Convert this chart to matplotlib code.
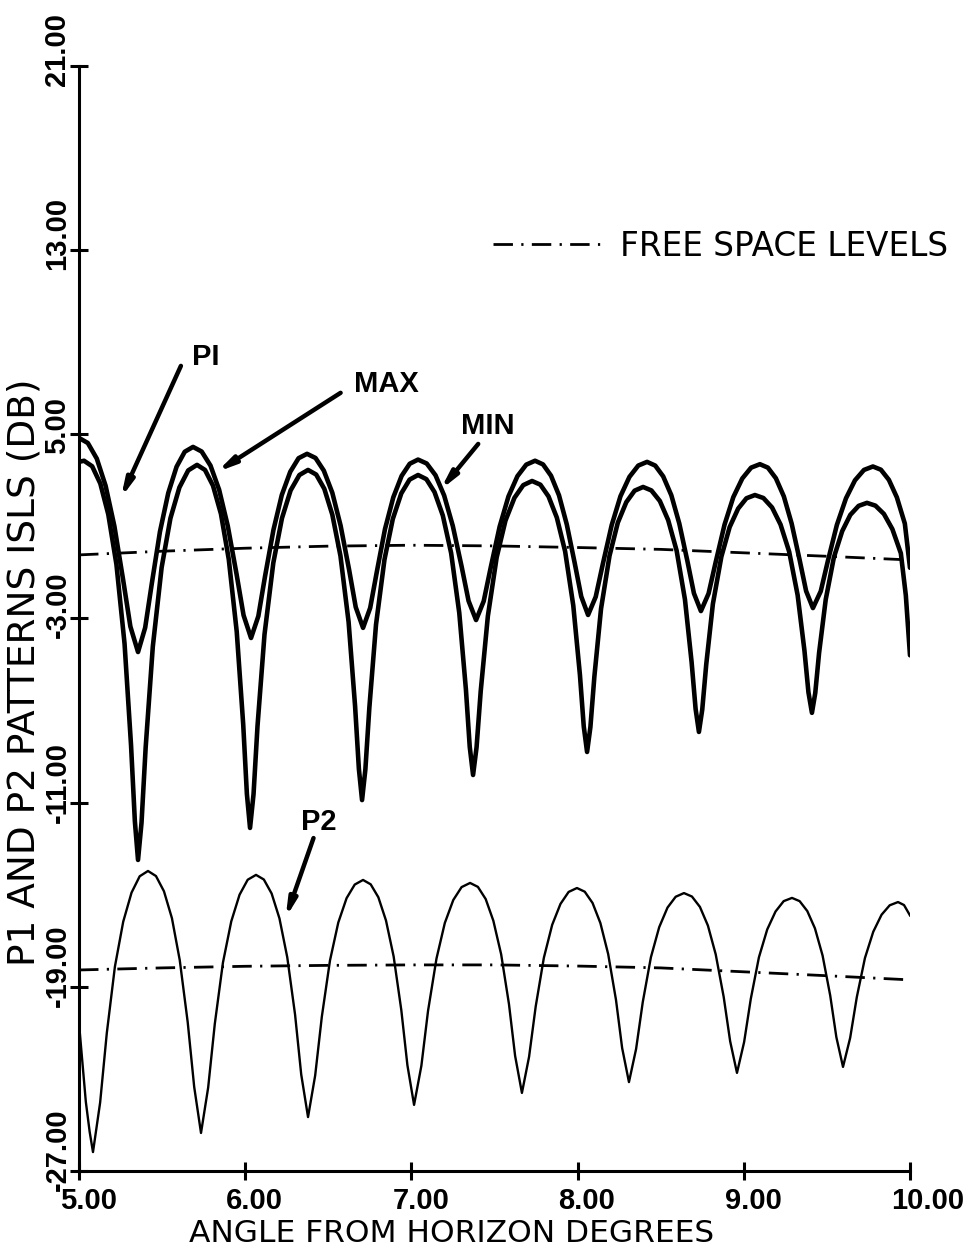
import matplotlib
matplotlib.use("Agg")
import matplotlib.pyplot as plt
from matplotlib.transforms import ScaledTranslation

# P1 "MAX" curve (angle in degrees, level in dB)
max_x = [5.000, 5.053, 5.107, 5.160, 5.213, 5.266, 5.309, 5.355,
         5.398, 5.438, 5.487, 5.537, 5.587, 5.636, 5.686,
         5.738, 5.791, 5.843, 5.895, 5.948, 5.990, 6.035,
         6.079, 6.119, 6.170, 6.220, 6.271, 6.321, 6.372,
         6.423, 6.473, 6.524, 6.574, 6.625, 6.665, 6.709,
         6.752, 6.792, 6.841, 6.891, 6.941, 6.990, 7.040,
         7.092, 7.145, 7.197, 7.249, 7.302, 7.344, 7.389,
         7.435, 7.478, 7.531, 7.584, 7.638, 7.691, 7.744,
         7.792, 7.840, 7.888, 7.935, 7.983, 8.022, 8.063,
         8.109, 8.152, 8.205, 8.258, 8.312, 8.365, 8.418,
         8.467, 8.515, 8.564, 8.612, 8.661, 8.700, 8.742,
         8.788, 8.831, 8.884, 8.937, 8.991, 9.044, 9.097,
         9.145, 9.193, 9.241, 9.288, 9.336, 9.375, 9.416,
         9.463, 9.506, 9.560, 9.615, 9.669, 9.723, 9.777,
         9.825, 9.873, 9.921, 9.969, 10.000]
max_db = [4.84, 4.62, 3.94, 2.76, 1.00, -1.35, -3.35, -4.46,
          -3.40, -1.48, 0.77, 2.45, 3.59, 4.24, 4.45,
          4.25, 3.64, 2.59, 1.02, -1.08, -2.86, -3.85,
          -2.90, -1.18, 0.85, 2.36, 3.37, 3.96, 4.15,
          3.97, 3.42, 2.46, 1.03, -0.88, -2.51, -3.41,
          -2.54, -0.97, 0.88, 2.26, 3.19, 3.72, 3.90,
          3.73, 3.22, 2.34, 1.02, -0.74, -2.24, -3.07,
          -2.25, -0.76, 0.99, 2.30, 3.18, 3.68, 3.85,
          3.69, 3.20, 2.35, 1.08, -0.61, -2.05, -2.85,
          -2.06, -0.63, 1.05, 2.31, 3.15, 3.64, 3.80,
          3.64, 3.17, 2.35, 1.12, -0.52, -1.91, -2.68,
          -1.92, -0.55, 1.07, 2.27, 3.08, 3.55, 3.70,
          3.55, 3.09, 2.30, 1.12, -0.46, -1.81, -2.55,
          -1.82, -0.50, 1.06, 2.22, 3.00, 3.45, 3.60,
          3.46, 3.02, 2.26, 1.12, -0.80]

# P1 "MIN" curve
min_x = [5.000, 5.030, 5.079, 5.128, 5.176, 5.225, 5.274, 5.313, 5.336, 5.355,
         5.376, 5.401, 5.444, 5.497, 5.550, 5.604, 5.657, 5.710,
         5.758, 5.806, 5.854, 5.901, 5.949, 5.988, 6.010, 6.029,
         6.050, 6.074, 6.116, 6.169, 6.221, 6.273, 6.326, 6.378,
         6.427, 6.476, 6.524, 6.573, 6.622, 6.661, 6.684, 6.703,
         6.723, 6.747, 6.787, 6.838, 6.888, 6.939, 6.989, 7.040,
         7.090, 7.139, 7.189, 7.239, 7.288, 7.328, 7.351, 7.371,
         7.392, 7.417, 7.460, 7.513, 7.566, 7.620, 7.673, 7.726,
         7.776, 7.825, 7.875, 7.925, 7.974, 8.014, 8.037, 8.057,
         8.077, 8.101, 8.141, 8.192, 8.242, 8.293, 8.343, 8.394,
         8.444, 8.495, 8.545, 8.596, 8.646, 8.686, 8.710, 8.730,
         8.750, 8.774, 8.814, 8.865, 8.915, 8.966, 9.016, 9.067,
         9.118, 9.170, 9.221, 9.273, 9.324, 9.365, 9.389, 9.410,
         9.430, 9.453, 9.493, 9.542, 9.592, 9.641, 9.691, 9.741,
         9.792, 9.843, 9.894, 9.945, 9.975, 10.000]
min_db = [3.80, 3.85, 3.61, 2.86, 1.52, -0.65, -4.10, -8.51, -11.81, -13.49,
          -11.88, -8.60, -4.22, -0.79, 1.35, 2.69, 3.43, 3.67,
          3.45, 2.77, 1.54, -0.43, -3.58, -7.61, -10.62, -12.10,
          -10.64, -7.67, -3.70, -0.59, 1.35, 2.56, 3.23, 3.45,
          3.25, 2.63, 1.51, -0.28, -3.15, -6.80, -9.54, -10.89,
          -9.56, -6.87, -3.27, -0.44, 1.32, 2.43, 3.03, 3.23,
          3.05, 2.49, 1.47, -0.16, -2.76, -6.09, -8.58, -9.80,
          -8.60, -6.16, -2.90, -0.35, 1.25, 2.24, 2.79, 2.97,
          2.81, 2.30, 1.38, -0.09, -2.44, -5.45, -7.69, -8.80,
          -7.72, -5.52, -2.58, -0.28, 1.16, 2.05, 2.55, 2.71,
          2.56, 2.10, 1.27, -0.06, -2.18, -4.90, -6.93, -7.93,
          -6.96, -5.00, -2.37, -0.32, 0.97, 1.77, 2.22, 2.36,
          2.23, 1.82, 1.08, -0.10, -1.99, -4.40, -6.21, -7.10,
          -6.24, -4.50, -2.18, -0.35, 0.79, 1.50, 1.89, 2.02,
          1.90, 1.54, 0.88, -0.17, -2.00, -4.60]

# P2 curve
p2_x = [5.000, 5.041, 5.064, 5.084,
        5.127, 5.167, 5.216, 5.266, 5.316, 5.365, 5.415,
        5.463, 5.511, 5.559, 5.606, 5.654, 5.693, 5.734,
        5.777, 5.817, 5.866, 5.916, 5.966, 6.015, 6.065,
        6.112, 6.159, 6.206, 6.253, 6.300, 6.337, 6.378,
        6.421, 6.461, 6.510, 6.560, 6.610, 6.659, 6.709,
        6.755, 6.801, 6.847, 6.893, 6.939, 6.976, 7.016,
        7.060, 7.100, 7.151, 7.201, 7.252, 7.302, 7.353,
        7.400, 7.447, 7.493, 7.540, 7.587, 7.624, 7.665,
        7.708, 7.748, 7.797, 7.847, 7.897, 7.946, 7.996,
        8.043, 8.090, 8.137, 8.184, 8.231, 8.268, 8.309,
        8.352, 8.392, 8.441, 8.491, 8.541, 8.590, 8.640,
        8.688, 8.736, 8.784, 8.831, 8.879, 8.918, 8.959,
        9.002, 9.042, 9.091, 9.141, 9.191, 9.240, 9.290,
        9.336, 9.382, 9.428, 9.474, 9.520, 9.557, 9.597,
        9.640, 9.680, 9.729, 9.779, 9.829, 9.878, 9.928,
        9.964, 10.000]
p2_db = [-20.60, -24.00, -25.30, -26.18,
         -24.03, -21.02, -18.12, -16.17, -14.91, -14.20, -13.97,
         -14.19, -14.85, -16.02, -17.84, -20.54, -23.35, -25.35,
         -23.38, -20.61, -17.95, -16.16, -15.00, -14.35, -14.14,
         -14.34, -14.95, -16.03, -17.72, -20.21, -22.81, -24.66,
         -22.85, -20.30, -17.86, -16.21, -15.15, -14.56, -14.36,
         -14.55, -15.11, -16.12, -17.68, -20.00, -22.41, -24.13,
         -22.43, -20.05, -17.77, -16.23, -15.23, -14.67, -14.49,
         -14.66, -15.19, -16.13, -17.59, -19.75, -22.00, -23.61,
         -22.04, -19.85, -17.74, -16.31, -15.40, -14.88, -14.71,
         -14.87, -15.36, -16.23, -17.58, -19.57, -21.66, -23.14,
         -21.70, -19.67, -17.72, -16.41, -15.56, -15.09, -14.93,
         -15.08, -15.53, -16.34, -17.59, -19.44, -21.37, -22.74,
         -21.40, -19.53, -17.72, -16.51, -15.73, -15.28, -15.14,
         -15.28, -15.71, -16.46, -17.64, -19.38, -21.19, -22.48,
         -21.22, -19.45, -17.75, -16.61, -15.87, -15.46, -15.32,
         -15.45, -15.90]

# free space levels
fs_x = [5.0, 5.5, 6.0, 6.5, 7.0, 7.5, 8.0, 8.5, 9.0, 9.5, 10.0]
fs_p1 = [-0.24, -0.08, 0.05, 0.14, 0.18, 0.15, 0.08, 0.00, -0.15, -0.30, -0.46]
fs_p2 = [-18.27, -18.18, -18.11, -18.07, -18.05, -18.05, -18.10, -18.18, -18.35, -18.52, -18.70]

x_ticks = [5, 6, 7, 8, 9, 10]
x_labels = ["5.00", "6.00", "7.00", "8.00", "9.00", "10.00"]
y_ticks = [21, 13, 5, -3, -11, -19, -27]
y_labels = ["21.00", "13.00", "5.00", "-3.00", "-11.00", "-19.00", "-27.00"]

label_font = ["DejaVu Sans"]
tick_font = ["Liberation Sans", "DejaVu Sans"]

fig = plt.figure(figsize=(9.72, 12.58), dpi=100)
ax = fig.add_axes([0.0813, 0.0692, 0.8549, 0.8784])

ax.plot(max_x, max_db, color="k", lw=3.3, solid_capstyle="round", solid_joinstyle="round")
ax.plot(min_x, min_db, color="k", lw=3.3, solid_capstyle="round", solid_joinstyle="round")
ax.plot(p2_x, p2_db, color="k", lw=1.7, solid_joinstyle="round")
dashdot = (0, (7, 3, 0.8, 3))
fs_line, = ax.plot(fs_x, fs_p1, color="k", lw=2.0, linestyle=dashdot)
ax.plot(fs_x, fs_p2, color="k", lw=2.0, linestyle=dashdot)

ax.set_xlim(5, 10)
ax.set_ylim(-27, 21)
for side in ["top", "right"]:
    ax.spines[side].set_visible(False)
for side in ["left", "bottom"]:
    ax.spines[side].set_linewidth(2.2)

ax.set_xticks(x_ticks)
ax.set_xticklabels(x_labels, ha="left", fontsize=21, fontweight="bold", family=tick_font)
ax.set_yticks(y_ticks)
ax.set_yticklabels(y_labels, rotation=90, rotation_mode="anchor", ha="left", va="center",
                   fontsize=21, fontweight="bold", family=tick_font)
ax.tick_params(axis="both", direction="inout", length=13, width=2.2)
ax.tick_params(axis="x", pad=5)
ax.tick_params(axis="y", pad=9)

dx = ScaledTranslation(-0.19, 0, fig.dpi_scale_trans)
for lab in ax.get_xticklabels():
    lab.set_transform(lab.get_transform() + dx)
dy = ScaledTranslation(0, -0.20, fig.dpi_scale_trans)
for lab in ax.get_yticklabels():
    lab.set_transform(lab.get_transform() + dy)

fig.text(452 / 972, 1 - 1234 / 1258, "ANGLE FROM HORIZON DEGREES", ha="center", va="center",
         fontsize=22.5, family=label_font)
fig.text(25 / 972, 1 - 672 / 1258, "P1 AND P2 PATTERNS ISLS (DB)", ha="center", va="center",
         rotation=90, fontsize=27, family=label_font)

leg = ax.legend([fs_line], ["FREE SPACE LEVELS"], loc="center left",
                bbox_to_anchor=(493 / 972, 1 - 246 / 1258), bbox_transform=fig.transFigure,
                frameon=False, borderpad=0, borderaxespad=0, handlelength=3.3,
                handletextpad=0.6, prop={"family": label_font, "size": 23.5})

# curve callouts
arrow = dict(arrowstyle="-|>,head_length=1.0,head_width=0.22", lw=3.2, color="k",
             shrinkA=0, shrinkB=0)
callouts = [
    ("PI", (5.763, 8.36), (5.613, 7.97), (5.252, 2.23)),
    ("MAX", (6.85, 7.19), (6.574, 6.80), (5.829, 3.36)),
    ("MIN", (7.462, 5.36), (7.402, 4.58), (7.174, 2.58)),
    ("P2", (6.441, -11.84), (6.411, -12.54), (6.243, -16.01)),
]
for txt, pos, tail, tip in callouts:
    ax.text(pos[0], pos[1], txt, ha="center", va="center", fontsize=21,
            fontweight="bold", family=tick_font)
    ax.annotate("", xy=tip, xytext=tail, arrowprops=arrow)

fig.savefig("out.png", dpi=100, facecolor="white")
